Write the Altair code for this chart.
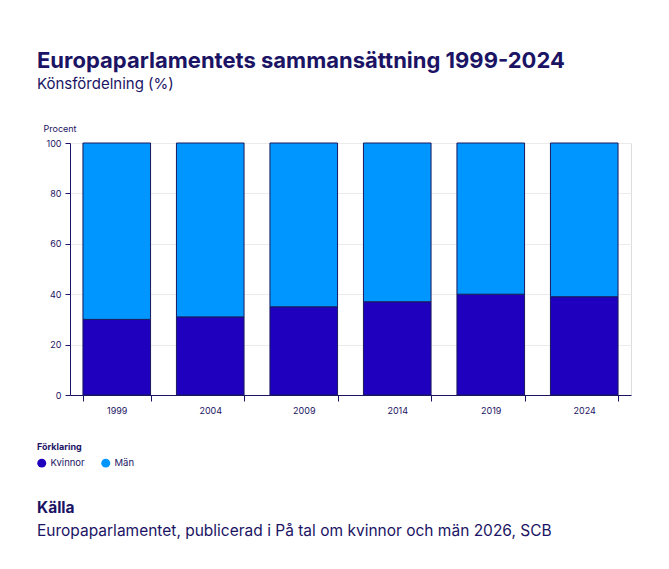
import altair as alt
import pandas as pd

YEARS = ["1999", "2004", "2009", "2014", "2019", "2024"]
KVINNOR = [30, 31, 35, 37, 40, 39]
MAN = [70, 69, 65, 63, 60, 61]
GROUPS = ["Kvinnor", "Män"]
COLORS = ["#1e00be", "#0096ff"]
TITLE = "Europaparlamentets sammansättning 1999-2024"
SUBTITLE = "Könsfördelning (%)"
SOURCE_TITLE = ["Källa"]
SOURCE_TEXT = ["Europaparlamentet, publicerad i På tal om kvinnor och män 2026, SCB"]

NAVY = "#1b1464"
FONT = "Inter"

rows = []
for i, y in enumerate(YEARS):
    rows.append({"År": y, "Kön": GROUPS[0], "Procent": KVINNOR[i], "ord": 0})
    rows.append({"År": y, "Kön": GROUPS[1], "Procent": MAN[i], "ord": 1})
df = pd.DataFrame(rows)

W, H = 561, 252

bars = alt.Chart(df).mark_bar(stroke="#1a1a5e", strokeWidth=1).encode(
    x=alt.X("År:N", sort=YEARS, title=None,
            scale=alt.Scale(paddingInner=0.277, paddingOuter=0.1385),
            axis=alt.Axis(labelAngle=0, tickBand="extent", tickSize=6,
                          labelPadding=5, labelFontSize=9, labelColor=NAVY,
                          domainColor=NAVY, tickColor=NAVY, labelFont=FONT)),
    y=alt.Y("Procent:Q", stack="zero",
            scale=alt.Scale(domain=[0, 100]),
            axis=alt.Axis(values=[0, 20, 40, 60, 80, 100], title="Procent",
                          titleAngle=0, titleAlign="left", titleBaseline="bottom",
                          titleX=-27, titleY=-10, titleFontSize=9,
                          titleFontWeight="normal", titleColor=NAVY, titleFont=FONT,
                          labelFontSize=9, labelColor=NAVY, labelFont=FONT,
                          tickSize=5, labelPadding=4, domainColor=NAVY,
                          tickColor=NAVY, gridColor="#ebebeb")),
    color=alt.Color("Kön:N", scale=alt.Scale(domain=GROUPS, range=COLORS),
                    legend=alt.Legend(title="Förklaring", orient="none",
                                      legendX=-33, legendY=300,
                                      direction="horizontal", symbolType="circle",
                                      symbolSize=80, symbolStrokeWidth=0,
                                      titleFontSize=9, titleFontWeight="bold",
                                      titleColor=NAVY, titleFont=FONT,
                                      labelFontSize=9.5, labelColor=NAVY,
                                      labelFont=FONT, titlePadding=6,
                                      columnPadding=16, labelOffset=4)),
    order=alt.Order("ord:Q"),
)

src_title = alt.Chart(pd.DataFrame({"t": SOURCE_TITLE})).mark_text(
    align="left", baseline="middle", fontSize=15.5, fontWeight="bold",
    color=NAVY, font=FONT
).encode(text="t:N", x=alt.value(-33), y=alt.value(H + 113))

src_text = alt.Chart(pd.DataFrame({"t": SOURCE_TEXT})).mark_text(
    align="left", baseline="middle", fontSize=15.5, fontWeight="normal",
    color=NAVY, font=FONT
).encode(text="t:N", x=alt.value(-33), y=alt.value(H + 136))

chart = alt.layer(bars, src_title, src_text).properties(
    width=W, height=H,
    title=alt.TitleParams(TITLE, subtitle=SUBTITLE, anchor="start", frame="group",
                          dx=-33, fontSize=22, fontWeight="bold", color=NAVY,
                          font=FONT, subtitleFont=FONT, subtitleFontSize=15,
                          subtitleColor=NAVY, subtitlePadding=4, offset=31),
    padding={"left": 62, "top": 135, "right": 30, "bottom": 150},
    autosize=alt.AutoSizeParams(type="none"),
).configure_view(stroke=None).configure(background="white")

chart.save("out.html", embed_options={"renderer": "svg", "actions": False})
